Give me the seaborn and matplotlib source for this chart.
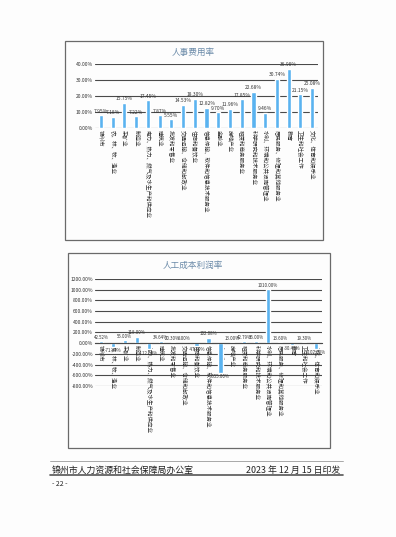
import matplotlib
matplotlib.use("Agg")
import matplotlib.pyplot as plt
import seaborn as sns
import pandas as pd
from matplotlib.lines import Line2D
from matplotlib.patches import Rectangle

# industries (same order in both charts)
industries = [
    "锦州市", "农、林、牧、渔业", "采矿业", "制造业",
    "电力、热力、燃气及水生产和供应业", "建筑业", "批发和零售业",
    "交通运输、仓储和邮政业", "住宿和餐饮业", "信息传输、软件和信息技术服务业",
    "金融业", "房地产业", "租赁和商务服务业", "科学研究和技术服务业",
    "水利、环境和公共设施管理业", "居民服务、修理和其他服务业", "教育",
    "卫生和社会工作", "文化、体育和娱乐业",
]

# 人事费用率 (%)
personnel_cost_rate = [7.95, 7.18, 15.75, 7.22, 17.45, 7.87, 5.55, 14.53, 18.30,
                       12.82, 9.70, 11.96, 17.85, 22.68, 9.46, 30.74, 36.98,
                       21.15, 25.08]

# 人工成本利润率 (%)
labor_profit_rate = [42.52, -71.40, 55.00, 118.00, -112.00, 34.64, 20.30, 8.00,
                     -47.50, 102.08, -555.00, 13.00, 42.79, 36.00, 1010.00,
                     13.60, -30.40, 19.30, -102.00]

ticks1 = [0, 10, 20, 30, 40]
ticks2 = [-800, -600, -400, -200, 0, 200, 400, 600, 800, 1000, 1200]

sns.set_theme(style="white")
plt.rcParams["font.family"] = ["Noto Sans CJK SC", "DejaVu Sans"]

BAR = "#5ab3f0"
GRID = "#4a4a4a"

fig = plt.figure(figsize=(3.96, 5.37), dpi=100)
fig.patch.set_facecolor("#fdfdfd")

# chart frames
for x0, y0, w, h in [(0.164, 0.553, 0.652, 0.371), (0.172, 0.166, 0.662, 0.363)]:
    fig.patches.append(Rectangle((x0, y0), w, h, transform=fig.transFigure,
                                 fill=False, edgecolor="#6a6a6a", linewidth=0.9))


def draw(ax, values, ticks, title, title_y, zero_axis, label_size):
    df = pd.DataFrame({"industry": industries, "value": values})
    sns.barplot(data=df, x="industry", y="value", order=industries, color=BAR,
                width=0.35, ax=ax, saturation=1)
    ax.set_ylim(ticks[0], ticks[-1])
    ax.set_yticks(ticks)
    ax.set_yticklabels([f"{t:.2f}%" for t in ticks], fontsize=3.6, color="#333")
    for t in ticks:
        ax.axhline(t, color=GRID, linewidth=0.8, zorder=0)
    ax.set_xlabel("")
    ax.set_ylabel("")
    ax.set_facecolor("none")
    for s in ax.spines.values():
        s.set_visible(False)
    if zero_axis:
        ax.spines["bottom"].set_visible(True)
        ax.spines["bottom"].set_position(("data", 0))
        ax.spines["bottom"].set_color(GRID)
        ax.spines["bottom"].set_linewidth(0.8)
    ax.tick_params(axis="both", length=0, pad=1.5)
    ax.set_xticks(range(len(industries)))
    ax.set_xticklabels(industries, rotation=-90, fontsize=4.0, color="#333",
                       linespacing=1.0)
    ax.bar_label(ax.containers[0], labels=[f"{v:.2f}%" for v in values],
                 fontsize=label_size, padding=1, color="#333")
    fig.text(0.487, title_y, title, ha="center", va="center", fontsize=6.2,
             color="#6a8aa8")


ax1 = fig.add_axes([0.240, 0.7616, 0.563, 0.1192])
draw(ax1, personnel_cost_rate, ticks1, "人事费用率", 1 - 52 / 537, False, 3.5)

ax2 = fig.add_axes([0.240, 0.2812, 0.573, 0.1993])
draw(ax2, labor_profit_rate, ticks2, "人工成本利润率", 1 - 265 / 537, True, 3.2)

# footer
fig.lines.append(Line2D([0.126, 0.866], [0.1415, 0.1415], transform=fig.transFigure,
                        color="#9a9a9a", linewidth=0.6))
fig.lines.append(Line2D([0.126, 0.866], [0.1155, 0.1155], transform=fig.transFigure,
                        color="#555", linewidth=1.2))
fig.text(0.131, 0.1245, "锦州市人力资源和社会保障局办公室", ha="left", va="center",
         fontsize=6.4, color="#222")
fig.text(0.859, 0.1245, "2023 年 12 月 15 日印发", ha="right", va="center",
         fontsize=6.4, color="#222")
fig.text(0.131, 0.098, "- 22 -", ha="left", va="center", fontsize=5, color="#222")

fig.savefig("out.png", dpi=100, facecolor=fig.get_facecolor())
